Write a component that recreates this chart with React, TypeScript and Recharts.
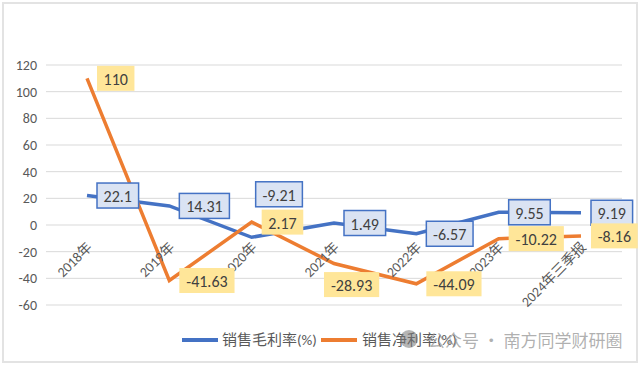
import React from 'react';
import { LineChart, Line, XAxis, YAxis, CartesianGrid, ReferenceDot } from 'recharts';

const categories = ['2018年', '2019年', '2020年', '2021年', '2022年', '2023年', '2024年三季报'];
const grossMargin = [22.1, 14.31, -9.21, 1.49, -6.57, 9.55, 9.19];
const netMargin = [110, -41.63, 2.17, -28.93, -44.09, -10.22, -8.16];
const yTicks = [-60, -40, -20, 0, 20, 40, 60, 80, 100, 120];
const seriesNames = ['销售毛利率(%)', '销售净利率(%)'];
const watermark = '公众号 · 南方同学财研圈';

const data = categories.map((cat, i) => ({ cat, gross: grossMargin[i], net: netMargin[i] }));

const BLUE = '#4472C4';
const ORANGE = '#ED7D31';
const FONT = 'Carlito, Calibri, Lato, "Noto Sans CJK SC", sans-serif';

// label placement tweaks (style, not data)
const grossOffsets: Record<number, { dx: number; dy: number }> = { 2: { dx: 4, dy: -43 } };
const netOffsets: Record<number, { dx: number; dy: number }> = { 3: { dx: -10, dy: 21 } };

function textWidth(s: string, size: number) {
  let w = 0;
  for (const ch of s) {
    if (ch === '.') w += 0.26 * size;
    else if (ch === '-') w += 0.32 * size;
    else w += 0.53 * size;
  }
  return w;
}

function makeLabel(fill: string, stroke: string | null, offsets: Record<number, { dx: number; dy: number }>) {
  return (props: any) => {
    const { x, y, value, index } = props;
    if (x == null || y == null) return null;
    const off = offsets[index] || { dx: 10, dy: 0 };
    const text = String(value);
    const w = textWidth(text, 16) + 12;
    const h = 25;
    const left = x + off.dx;
    const cy = y + off.dy;
    return (
      <g key={`lbl-${index}`}>
        <rect x={left} y={cy - h / 2} width={w} height={h} fill={fill}
          stroke={stroke || 'none'} strokeWidth={stroke ? 1.5 : 0} />
        <text x={left + w / 2} y={cy + 1} textAnchor="middle" dominantBaseline="central"
          fontSize={16} fontFamily={FONT} fill="#404040">{text}</text>
      </g>
    );
  };
}

const CatTick = (props: any) => {
  const { cx, cy, label } = props;
  const ax = cx + 6;
  const ay = cy + 23;
  return (
    <text x={ax} y={ay} transform={`rotate(-45 ${ax} ${ay})`} textAnchor="end"
      fontSize={14} fontFamily={FONT} fill="#595959">{label}</text>
  );
};

export default function App() {
  return (
    <div style={{ position: 'fixed', left: 0, top: 0, width: 640, height: 365, background: '#fff', overflow: 'hidden' }}>
      <div style={{ position: 'absolute', left: 2, top: 2, width: 632, height: 357, border: '2px solid #e3e3e3' }} />
      <div style={{ position: 'absolute', left: 0, top: 0 }}>
        <LineChart width={640} height={365} data={data} margin={{ top: 65, right: 18, bottom: 60, left: 6 }}>
          <CartesianGrid vertical={false} stroke="#d9d9d9" strokeWidth={1} />
          <XAxis dataKey="cat" hide padding={{ left: 41, right: 41 }} />
          <YAxis domain={[-60, 120]} ticks={yTicks} axisLine={false} tickLine={false} width={40} tickMargin={3}
            tick={{ fontSize: 14, fill: '#595959', fontFamily: FONT }} interval={0} />
          <Line type="linear" dataKey="gross" stroke={BLUE} strokeWidth={3.5} dot={false}
            isAnimationActive={false} label={makeLabel('#DAE3F3', BLUE, grossOffsets)} />
          <Line type="linear" dataKey="net" stroke={ORANGE} strokeWidth={3.5} dot={false}
            isAnimationActive={false} label={makeLabel('#FFE699', null, netOffsets)} />
          {categories.map((c) => (
            <ReferenceDot key={c} x={c} y={0} r={0} ifOverflow="visible"
              shape={(p: any) => <CatTick {...p} label={c} />} />
          ))}
        </LineChart>
      </div>
      {/* legend */}
      <div style={{ position: 'absolute', left: 182, top: 338, width: 36, height: 3.5, background: BLUE }} />
      <div style={{ position: 'absolute', left: 222, top: 330, fontSize: 15, lineHeight: '20px', color: '#595959', fontFamily: FONT, whiteSpace: 'nowrap' }}>{seriesNames[0]}</div>
      <div style={{ position: 'absolute', left: 321, top: 338, width: 36, height: 3.5, background: ORANGE }} />
      <div style={{ position: 'absolute', left: 362, top: 330, fontSize: 15, lineHeight: '20px', color: '#595959', fontFamily: FONT, whiteSpace: 'nowrap' }}>{seriesNames[1]}</div>
      {/* watermark */}
      <div style={{ position: 'absolute', left: 400, top: 330, width: 18, height: 18, borderRadius: 9, background: 'rgba(120,120,120,0.55)' }} />
      <div style={{ position: 'absolute', left: 428, top: 328, fontSize: 17, lineHeight: '24px', color: 'rgba(150,150,150,0.75)', fontFamily: '"Noto Sans CJK SC", sans-serif', whiteSpace: 'nowrap' }}>{watermark}</div>
    </div>
  );
}
